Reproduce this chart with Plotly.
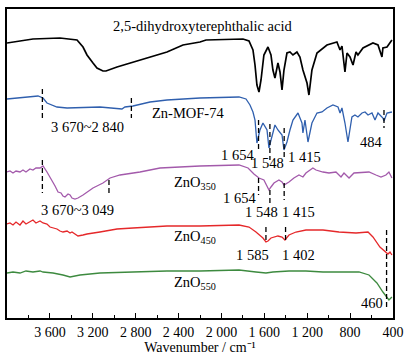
import plotly.graph_objects as go

# ---- data: wavenumber (cm-1) and transmittance (arbitrary, offset) ----
acid_wn = [4000, 3879, 3758, 3506, 3347, 3291, 3254, 3198, 3161, 3105, 3077, 2974, 2825, 2666, 2508, 2359, 2200, 2144,
           1799, 1743, 1706, 1687, 1669, 1650, 1631, 1604, 1566, 1538, 1520, 1501, 1473, 1454, 1435, 1417, 1389, 1361,
           1333, 1296, 1268, 1240, 1202, 1184, 1156, 1109, 1016, 923, 894, 876, 848, 829, 801, 773, 745, 727, 680,
           587, 540, 503, 494, 456, 428, 410]
acid_t = [275, 277, 279, 280, 278, 271, 263, 255, 250, 247, 247, 251, 256, 261, 266, 273, 276, 278,
          279, 277, 268, 253, 233, 226, 238, 263, 271, 263, 248, 240, 255, 246, 228, 248, 265, 266,
          263, 266, 261, 248, 235, 223, 248, 265, 273, 276, 268, 272, 246, 265, 261, 253, 266, 263, 270,
          275, 273, 261, 270, 271, 275, 278]

mof_wn = [4000, 3879, 3758, 3711, 3664, 3627, 3534, 3440, 3133, 2974, 2928, 2900, 2825, 2666, 2508, 2200, 1836, 1771,
          1734, 1706, 1687, 1669, 1641, 1613, 1575, 1557, 1529, 1501, 1473, 1435, 1417, 1389, 1361, 1333, 1286, 1249,
          1240, 1221, 1193, 1156, 1109, 1062, 1016, 960, 913, 894, 876, 848, 820, 783, 755, 727, 689, 661, 633, 596,
          568, 540, 494, 484, 456, 410]
mof_t = [219, 220, 221, 222, 220, 215, 211, 210, 211, 210, 209, 211, 212, 216, 218, 220, 221, 219,
         213, 206, 198, 175, 188, 195, 188, 170, 181, 193, 188, 183, 168, 176, 188, 198, 205, 195,
         185, 198, 176, 195, 205, 206, 210, 213, 211, 205, 210, 195, 176, 201, 203, 201, 205, 206, 203, 205,
         198, 205, 200, 197, 205, 206]

zno350_wn = [4000, 3972, 3944, 3916, 3879, 3851, 3823, 3786, 3758, 3730, 3692, 3664, 3627, 3599, 3571, 3552, 3524,
             3496, 3478, 3459, 3431, 3412, 3394, 3366, 3338, 3291, 3198, 3105, 3039, 2946, 2760, 2573, 2387, 2200,
             1836, 1752, 1697, 1650, 1604, 1575, 1557, 1538, 1510, 1464, 1435, 1417, 1370, 1324, 1277, 1240, 1212,
             1147, 1118, 1053, 997, 932, 885, 857, 810, 764, 680, 624, 559, 512, 466, 438, 410]
zno350_t = [146, 147, 145, 147, 146, 148, 146, 149, 148, 150, 150, 152, 146, 141, 135, 132, 126,
            125, 122, 121, 124, 123, 120, 119, 120, 123, 130, 135, 140, 143, 146, 150, 151, 152,
            153, 150, 144, 140, 138, 132, 128, 131, 135, 138, 136, 133, 136, 140, 143, 141, 145,
            150, 148, 146, 145, 146, 141, 145, 140, 145, 146, 146, 143, 141, 143, 146, 140]

zno450_wn = [4000, 3972, 3944, 3916, 3879, 3851, 3823, 3786, 3758, 3730, 3692, 3664, 3627, 3599, 3571, 3534, 3506,
             3478, 3440, 3412, 3394, 3366, 3338, 3291, 3254, 3133, 2974, 2825, 2666, 2508, 2359, 2200, 1836, 1743,
             1678, 1613, 1585, 1566, 1538, 1473, 1435, 1408, 1370, 1305, 1212, 1053, 904, 745, 633, 587, 522, 475,
             447, 428, 410]
zno450_t = [94, 95, 93, 96, 93, 97, 94, 96, 98, 95, 97, 95, 94, 91, 90, 89, 87,
            86, 87, 85, 86, 84, 82, 83, 84, 86, 89, 90, 91, 92, 92, 92, 93, 91,
            86, 80, 76, 77, 80, 82, 81, 78, 83, 86, 88, 88, 86, 85, 86, 81, 71, 66,
            64, 66, 63]

zno550_wn = [4000, 3944, 3879, 3823, 3758, 3692, 3664, 3571, 3478, 3412, 3319, 3133, 2825, 2508, 2200, 1836, 1678,
             1585, 1520, 1370, 1212, 1053, 838, 717, 624, 550, 494, 438, 410]
zno550_t = [45, 46, 45, 47, 46, 47, 46, 45, 43, 41, 43, 45, 46, 47, 47, 48, 46,
            45, 46, 47, 47, 46, 46, 46, 43, 35, 26, 18, 21]

series = [
    (acid_wn, acid_t, "#000000", 1.7),
    (mof_wn, mof_t, "#2f5fae", 1.3),
    (zno350_wn, zno350_t, "#a35aab", 1.3),
    (zno450_wn, zno450_t, "#e5282a", 1.3),
    (zno550_wn, zno550_t, "#3d8a3f", 1.3),
]

# band markers: (wavenumber, y0, y1)
markers = [
    (3670, 229, 198), (2840, 220, 200),
    (1654, 198, 168), (1548, 194, 158), (1415, 190, 161), (484, 208, 190),
    (3670, 158, 125), (3049, 138, 125),
    (1654, 140, 123), (1548, 128, 115), (1415, 135, 118),
    (1585, 91, 76), (1402, 91, 76),
    (460, 88, 10),
]

# text labels: (text, wavenumber, y, anchor)
labels = [
    ("2,5-dihydroxyterephthalic acid", 2172, 292, "center"),
    ("Zn-MOF-74", 2312, 205, "center"),
    ("3 670~2 840", 3245, 191, "center"),
    ("1 654", 1850, 163, "center"),
    ("1 548", 1566, 155, "center"),
    ("1 415", 1221, 161, "center"),
    ("484", 596, 176, "center"),
    ("ZnO<sub>350</sub>", 2461, 135, "left"),
    ("3 670~3 049", 3338, 108, "center"),
    ("1 654", 1827, 120, "center"),
    ("1 548", 1622, 106, "center"),
    ("1 415", 1286, 106, "center"),
    ("ZnO<sub>450</sub>", 2461, 81, "left"),
    ("1 585", 1706, 63, "center"),
    ("1 402", 1286, 63, "center"),
    ("ZnO<sub>550</sub>", 2461, 35, "left"),
    ("460", 596, 15, "center"),
]

tick_vals = [3600, 3200, 2800, 2400, 2000, 1600, 1200, 800, 400]
tick_text = ["3 600", "3 200", "2 800", "2 400", "2 000", "1 600", "1 200", "800", "400"]

FONT = "Liberation Serif, Times New Roman, serif"

fig = go.Figure()
for wn, t, col, w in series:
    fig.add_trace(go.Scatter(x=wn, y=t, mode="lines", line=dict(color=col, width=w), showlegend=False,
                             hoverinfo="skip"))

for wn, y0, y1 in markers:
    fig.add_trace(go.Scatter(x=[wn, wn], y=[y0, y1], mode="lines",
                             line=dict(color="black", width=1.3, dash="5px,3px"), showlegend=False,
                             hoverinfo="skip"))

for txt, x, y, anc in labels:
    fig.add_annotation(x=x, y=y, text=txt, showarrow=False, xanchor=anc, yanchor="middle",
                       font=dict(family=FONT, size=14.5, color="black"))

fig.update_layout(
    width=412, height=361,
    margin=dict(l=7, r=19, t=9, b=43),
    paper_bgcolor="white", plot_bgcolor="white",
    font=dict(family=FONT, size=14, color="black"),
    xaxis=dict(range=[4000, 400], tickvals=tick_vals, ticktext=tick_text, ticks="inside", ticklen=5,
               tickwidth=1.2, tickcolor="black", showline=True, mirror=True, linecolor="black", linewidth=1.5,
               showgrid=False, zeroline=False,
               minor=dict(tickvals=[3800, 3400, 3000, 2600, 2200, 1800, 1400, 1000, 600], ticks="inside",
                          ticklen=3, tickcolor="black", tickwidth=1.2),
               title=dict(text="Wavenumber / cm⁻¹", font=dict(family=FONT, size=14), standoff=4),
               tickfont=dict(family=FONT, size=14)),
    yaxis=dict(range=[0, 309], showticklabels=False, ticks="", showline=True, mirror=True, linecolor="black",
               linewidth=1.5, showgrid=False, zeroline=False),
)

fig.write_html("out.html", config={"displayModeBar": False},
               post_script="document.body.style.margin='0';document.body.style.padding='0';")
